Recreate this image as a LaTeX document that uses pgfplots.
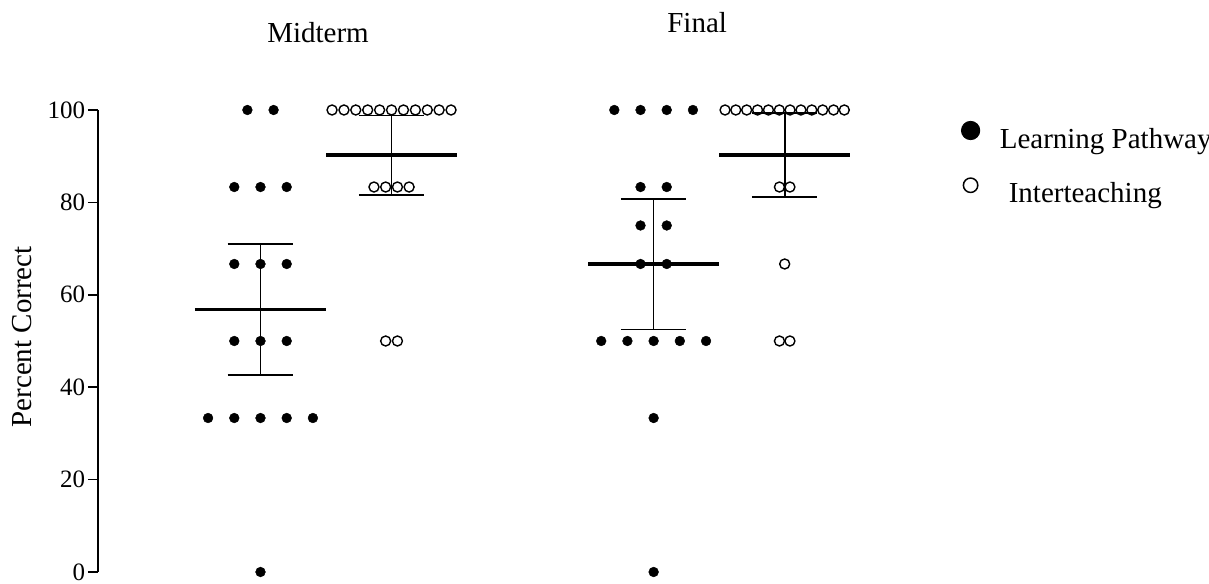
\documentclass[border=0pt]{standalone}
\usepackage{fontspec}
\setmainfont{Liberation Serif}
\usepackage{pgfplots}
\pgfplotsset{compat=1.18}
\begin{document}
\begin{tikzpicture}
\useasboundingbox (-49bp,-6bp) rectangle (555.5bp,286bp);
\begin{axis}[
  at={(0,0)}, anchor=south west,
  scale only axis, width=401bp, height=231bp,
  xmin=-0.24, xmax=5.88, ymin=0, ymax=100,
  axis x line=none, axis y line=left,
  y axis line style={-, line width=0.8bp},
  ytick={0,20,40,60,80,100},
  xtick=\empty,
  tick align=outside, major tick length=5bp,
  tick style={line width=0.8bp, black},
  /pgf/number format/assume math mode=true,
  yticklabel style={font=\fontsize{12.5bp}{14bp}\selectfont, inner sep=1.2bp},
  clip=false,
  legend style={draw=none, fill=none, at={(1.0686,0.985)}, anchor=north west,
    font=\fontsize{14.5bp}{17bp}\selectfont, row sep=11.5bp},
  legend cell align=left,
  legend image code/.code={\draw[#1] plot coordinates {(0.3cm,4.5bp)};},
]
\addlegendimage{only marks, mark=*, mark size=4.6bp, mark options={fill=black}}
\addlegendentry{\hspace{8bp}Learning Pathway}
\addlegendimage{only marks, mark=o, mark size=3.6bp, mark options={line width=0.75bp}}
\addlegendentry{\hspace{12.5bp}Interteaching}

% Midterm - Learning Pathway
\addplot[forget plot, only marks, mark=*, mark size=2.45bp, mark options={fill=black, line width=0.2bp}] coordinates {
 (0.9,100) (1.1,100)
 (0.8,83.33) (1,83.33) (1.2,83.33)
 (0.8,66.67) (1,66.67) (1.2,66.67)
 (0.8,50) (1,50) (1.2,50)
 (0.6,33.33) (0.8,33.33) (1,33.33) (1.2,33.33) (1.4,33.33)
 (1,0)
};
% Midterm - Interteaching
\addplot[forget plot, only marks, mark=o, mark size=2.5bp, mark options={line width=0.7bp}] coordinates {
 (1.546,100) (1.637,100) (1.727,100) (1.818,100) (1.909,100) (2,100) (2.091,100) (2.182,100) (2.273,100) (2.363,100) (2.454,100)
 (1.866,83.33) (1.955,83.33) (2.045,83.33) (2.134,83.33)
 (1.955,50) (2.045,50)
};
% Final - Learning Pathway
\addplot[forget plot, only marks, mark=*, mark size=2.45bp, mark options={fill=black, line width=0.2bp}] coordinates {
 (3.7,100) (3.9,100) (4.1,100) (4.3,100)
 (3.9,83.33) (4.1,83.33)
 (3.9,75) (4.1,75)
 (3.9,66.67) (4.1,66.67)
 (3.6,50) (3.8,50) (4,50) (4.2,50) (4.4,50)
 (4,33.33)
 (4,0)
};
% Final - Interteaching
\addplot[forget plot, only marks, mark=o, mark size=2.5bp, mark options={line width=0.7bp}] coordinates {
 (4.545,100) (4.627,100) (4.710,100) (4.793,100) (4.876,100) (4.959,100) (5.041,100) (5.124,100) (5.207,100) (5.290,100) (5.373,100) (5.455,100)
 (4.96,83.33) (5.04,83.33)
 (5,66.67)
 (4.96,50) (5.04,50)
};

% means
\addplot[forget plot, black, line width=1.8bp] coordinates {(0.5,56.86) (1.5,56.86)};
\addplot[forget plot, black, line width=1.8bp] coordinates {(1.5,90.2) (2.5,90.2)};
\addplot[forget plot, black, line width=1.8bp] coordinates {(3.5,66.67) (4.5,66.67)};
\addplot[forget plot, black, line width=1.8bp] coordinates {(4.5,90.2) (5.5,90.2)};
% error bars
\addplot[forget plot, black, line width=0.85bp] coordinates {(1,42.66) (1,71.06)};
\addplot[forget plot, black, line width=0.85bp] coordinates {(0.75,71.06) (1.25,71.06)};
\addplot[forget plot, black, line width=0.85bp] coordinates {(0.75,42.66) (1.25,42.66)};
\addplot[forget plot, black, line width=0.85bp] coordinates {(2,81.6) (2,98.8)};
\addplot[forget plot, black, line width=0.85bp] coordinates {(1.75,98.8) (2.25,98.8)};
\addplot[forget plot, black, line width=0.85bp] coordinates {(1.75,81.6) (2.25,81.6)};
\addplot[forget plot, black, line width=0.85bp] coordinates {(4,52.5) (4,80.8)};
\addplot[forget plot, black, line width=0.85bp] coordinates {(3.75,80.8) (4.25,80.8)};
\addplot[forget plot, black, line width=0.85bp] coordinates {(3.75,52.5) (4.25,52.5)};
\addplot[forget plot, black, line width=0.85bp] coordinates {(5,81.1) (5,99.3)};
\addplot[forget plot, black, line width=0.85bp] coordinates {(4.75,99.3) (5.25,99.3)};
\addplot[forget plot, black, line width=0.85bp] coordinates {(4.75,81.1) (5.25,81.1)};

% titles and axis label
\node[font=\fontsize{14.5bp}{17bp}\selectfont] at (axis cs:1.439,116.7) {Midterm};
\node[font=\fontsize{14.5bp}{17bp}\selectfont] at (axis cs:4.332,119.0) {Final};
\node[font=\fontsize{14.5bp}{17bp}\selectfont, rotate=90] at (axis cs:-0.821,50.9) {Percent Correct};
\end{axis}
\end{tikzpicture}
\end{document}
